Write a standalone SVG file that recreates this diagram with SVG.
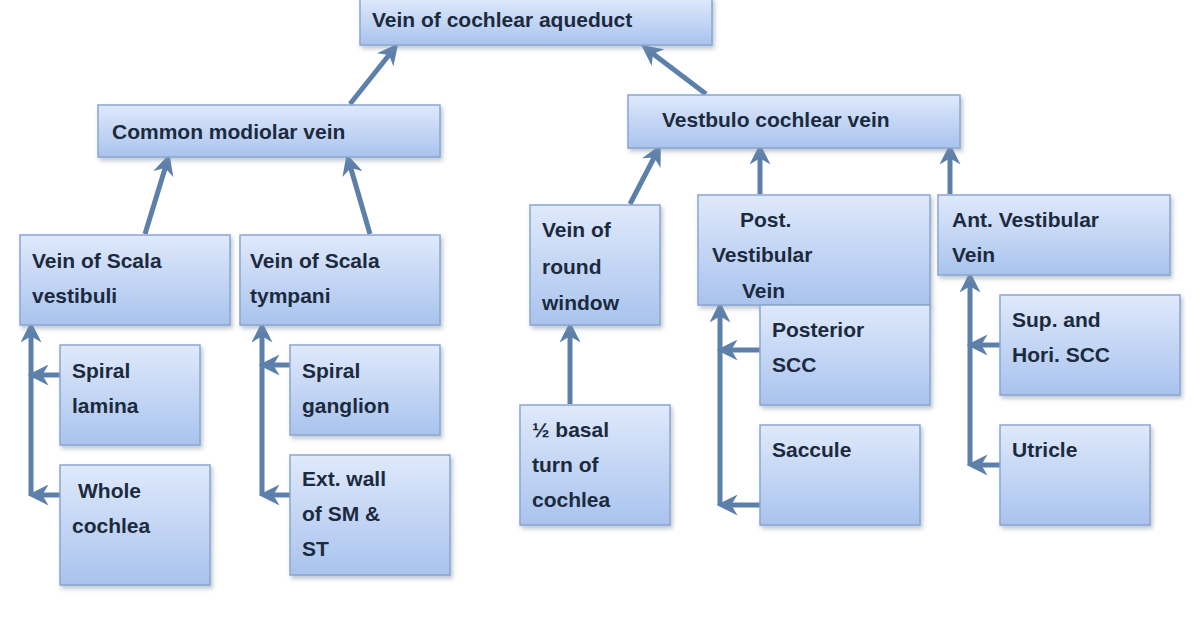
<svg xmlns="http://www.w3.org/2000/svg" width="1200" height="630" viewBox="0 0 1200 630">
<style>
.b{fill:url(#g);stroke:#8aa6cf;stroke-width:1.5;filter:url(#s)}
text{font-family:"Liberation Sans",Arial,sans-serif;font-weight:bold;font-size:21px;fill:#1c2a3e}
.c line,.c path{stroke:#5d80ab;stroke-width:5;fill:none}
.a{marker-end:url(#m)}
</style>
<defs>
<linearGradient id="g" x1="0" y1="0" x2="0" y2="1"><stop offset="0" stop-color="#dfe9fb"/><stop offset="1" stop-color="#a9c3ee"/></linearGradient>
<filter id="s" x="-10%" y="-10%" width="130%" height="140%"><feDropShadow dx="2" dy="3" stdDeviation="2" flood-color="#7f8ea8" flood-opacity="0.5"/></filter>
<marker id="m" viewBox="0 0 10 10" refX="6" refY="5" markerWidth="4.2" markerHeight="4.2" orient="auto"><path d="M0,0 L10,5 L0,10 L3,5 Z" fill="#5d80ab"/></marker>
</defs>
<rect width="1200" height="630" fill="#fff"/>
<g class="c">
<line class="a" x1="350" y1="104" x2="393" y2="50"/>
<line class="a" x1="706" y1="94" x2="648" y2="50"/>
<line class="a" x1="145" y1="234" x2="167" y2="162"/>
<line class="a" x1="370" y1="234" x2="349" y2="162"/>
<line class="a" x1="630" y1="204" x2="657" y2="152"/>
<line class="a" x1="760" y1="194" x2="760" y2="152"/>
<line class="a" x1="950" y1="194" x2="950" y2="152"/>
<line class="a" x1="570" y1="404" x2="570" y2="330"/>
<line class="a" x1="31" y1="495" x2="31" y2="330"/>
<line class="a" x1="60" y1="375" x2="36" y2="375"/>
<line class="a" x1="60" y1="495" x2="36" y2="495"/>
<line class="a" x1="262" y1="495" x2="262" y2="330"/>
<line class="a" x1="290" y1="365" x2="267" y2="365"/>
<line class="a" x1="290" y1="495" x2="267" y2="495"/>
<line class="a" x1="720" y1="505" x2="720" y2="310"/>
<line class="a" x1="760" y1="350" x2="725" y2="350"/>
<line class="a" x1="760" y1="505" x2="725" y2="505"/>
<line class="a" x1="970" y1="465" x2="970" y2="280"/>
<line class="a" x1="1000" y1="345" x2="975" y2="345"/>
<line class="a" x1="1000" y1="465" x2="975" y2="465"/>
</g>
<g id="n1"><rect class="b" x="360" y="-2" width="352" height="47"/><text x="372" y="27">Vein of cochlear aqueduct</text></g>
<g id="n2"><rect class="b" x="98" y="105" width="342" height="52"/><text x="112" y="139">Common modiolar vein</text></g>
<g id="n3"><rect class="b" x="628" y="95" width="332" height="53"/><text x="662" y="127">Vestbulo cochlear vein</text></g>
<g id="n4"><rect class="b" x="20" y="235" width="210" height="90"/><text x="32" y="268">Vein of Scala</text><text x="32" y="303">vestibuli</text></g>
<g id="n5"><rect class="b" x="240" y="235" width="200" height="90"/><text x="250" y="268">Vein of Scala</text><text x="250" y="303">tympani</text></g>
<g id="n6"><rect class="b" x="530" y="205" width="130" height="120"/><text x="542" y="237">Vein of</text><text x="542" y="274">round</text><text x="542" y="310">window</text></g>
<g id="n7"><rect class="b" x="698" y="195" width="232" height="110"/><text x="740" y="227">Post.</text><text x="712" y="262">Vestibular</text><text x="742" y="298">Vein</text></g>
<g id="n8"><rect class="b" x="938" y="195" width="232" height="80"/><text x="952" y="227">Ant. Vestibular</text><text x="952" y="262">Vein</text></g>
<g id="n9"><rect class="b" x="60" y="345" width="140" height="100"/><text x="72" y="378">Spiral</text><text x="72" y="413">lamina</text></g>
<g id="n10"><rect class="b" x="60" y="465" width="150" height="120"/><text x="78" y="498">Whole</text><text x="72" y="533">cochlea</text></g>
<g id="n11"><rect class="b" x="290" y="345" width="150" height="90"/><text x="302" y="378">Spiral</text><text x="302" y="413">ganglion</text></g>
<g id="n12"><rect class="b" x="290" y="455" width="160" height="120"/><text x="302" y="486">Ext. wall</text><text x="302" y="521">of SM &amp;</text><text x="302" y="556">ST</text></g>
<g id="n13"><rect class="b" x="520" y="405" width="150" height="120"/><text x="532" y="437">½ basal</text><text x="532" y="472">turn of</text><text x="532" y="507">cochlea</text></g>
<g id="n14"><rect class="b" x="760" y="305" width="170" height="100"/><text x="772" y="337">Posterior</text><text x="772" y="372">SCC</text></g>
<g id="n15"><rect class="b" x="760" y="425" width="160" height="100"/><text x="772" y="457">Saccule</text></g>
<g id="n16"><rect class="b" x="1000" y="295" width="180" height="100"/><text x="1012" y="327">Sup. and</text><text x="1012" y="362">Hori. SCC</text></g>
<g id="n17"><rect class="b" x="1000" y="425" width="150" height="100"/><text x="1012" y="457">Utricle</text></g>
</svg>
